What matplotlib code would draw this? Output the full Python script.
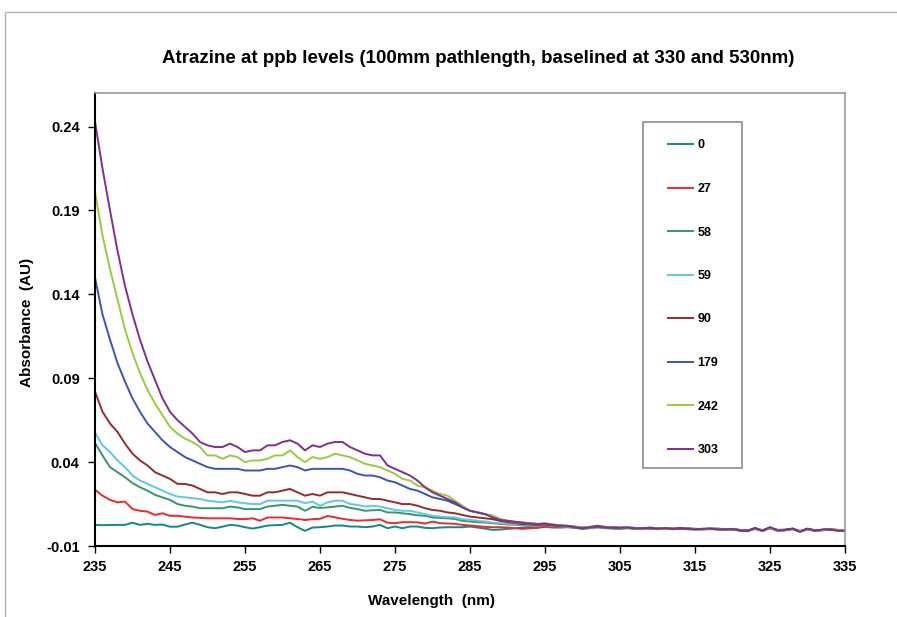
import numpy as np
import matplotlib
matplotlib.use("Agg")
import matplotlib.pyplot as plt
from matplotlib.patches import Rectangle
from matplotlib.ticker import FormatStrFormatter

plt.rcParams['font.family'] = ['Liberation Sans', 'DejaVu Sans']
plt.rcParams['font.weight'] = 'bold'

# wavelength grid, nm
wavelength = np.arange(235, 336)

# absorbance values in milli-AU (235..335 nm, 1 nm step)
a303 = [243, 215, 190, 166, 145, 128, 113, 100, 89, 78,
        70, 65, 61, 57, 52, 50, 49, 49, 51, 49,
        46, 47, 47, 50, 50, 52, 53, 51, 47, 50,
        49, 51, 52, 52, 49, 47, 45, 44, 44, 38,
        36, 34, 32, 29, 25, 22, 20, 18, 16, 13,
        11, 10, 9, 7, 5.5, 5, 4.2, 3.8, 3.3, 3.0,
        3.4, 2.6, 2.2, 2.0, 1.2, 0.6, 1.2, 2.0, 1.2, 0.8,
        0.8, 1.0, 0.6, 0.6, 0.8, 0.4, 0.6, 0.2, 0.8, 0.2,
        0.0, 0.2, 0.4, 0.0, -0.2, 0.2, -0.8, -1.2, 0.8, -1.0,
        1.2, -0.8, -0.4, 0.4, -1.6, 0.4, -0.8, -0.2, 0.0, -0.8,
        -1.0]
a242 = [201, 175, 155, 137, 119, 105, 93, 83, 75, 68,
        61, 57, 54, 52, 49, 44, 44, 42, 44, 43,
        40, 41, 41, 42, 44, 44, 47, 43, 40, 43,
        42, 43, 45, 44, 43, 41, 39, 38, 37, 35,
        33, 30, 29, 26, 25, 23, 21, 20, 17, 14,
        11, 10, 9, 8, 6, 5, 4.0, 3.8, 3.4, 3.2,
        3.6, 2.8, 2.4, 1.8, 1.6, 1.0, 1.4, 2.2, 1.4, 1.0,
        0.6, 1.0, 0.8, 0.4, 0.6, 0.6, 0.4, 0.4, 0.8, 0.4,
        0.2, -0.2, 0.6, 0.2, -0.4, 0.2, -0.6, -1.2, 0.8, -1.0,
        0.8, -0.8, -0.4, 0.0, -1.2, 0.0, -0.8, -0.6, 0.2, -0.4,
        -1.0]
a179 = [150, 128, 113, 99, 88, 78, 70, 63, 58, 53,
        49, 46, 43, 41, 39, 37, 36, 36, 36, 36,
        35, 35, 35, 36, 36, 37, 38, 37, 35, 36,
        36, 36, 36, 36, 35, 33, 32, 32, 31, 29,
        28, 26, 24, 23, 21, 19, 18, 17, 15, 13,
        11, 10, 9, 8, 6, 5, 4.5, 4.0, 3.6, 3.2,
        3.0, 2.8, 2.2, 2.0, 1.6, 1.0, 1.4, 1.6, 1.4, 1.2,
        0.8, 1.2, 0.8, 0.6, 1.0, 0.6, 0.8, 0.4, 0.6, 0.6,
        0.2, 0.2, 0.4, 0.4, 0.0, 0.2, -0.4, -0.8, 0.6, -0.6,
        1.0, -0.4, -0.2, 0.2, -1.2, 0.2, -0.6, -0.4, 0.2, -0.4,
        -0.8]
a90 = [82, 70, 63, 58, 51, 45, 41, 38, 34, 32,
       30, 27, 27, 26, 24, 22, 22, 21, 22, 22,
       21, 20, 20, 22, 22, 23, 24, 22, 20, 21,
       20, 22, 22, 22, 21, 20, 19, 18, 18, 17,
       16, 15, 15, 14, 12.5, 11.5, 11, 10, 9.5, 8.5,
       7.5, 7, 6.5, 6, 5, 4.2, 3.6, 3.0, 2.8, 2.6,
       2.8, 2.2, 2.0, 1.8, 1.4, 0.8, 1.2, 1.6, 1.2, 1.0,
       1.0, 0.8, 0.6, 0.8, 0.6, 0.4, 0.6, 0.2, 0.4, 0.4,
       0.2, 0.0, 0.4, 0.0, -0.2, 0.0, -0.6, -1.0, 0.4, -0.8,
       0.8, -0.6, -0.6, 0.2, -1.2, 0.2, -1.0, -0.4, -0.2, -0.6,
       -1.0]
a59 = [57.5, 50, 46, 41, 37, 32, 29, 27, 25, 23,
       21, 19.5, 19, 18.5, 18, 17, 16.5, 16, 17, 16,
       15.5, 15, 15, 17, 17, 17, 17, 17, 15.5, 16.5,
       14, 16, 17, 17, 15, 14.5, 13.5, 14, 13.5, 12.5,
       11.5, 11, 11, 10, 9, 8, 7.5, 7.2, 7, 6,
       5.6, 5, 4.6, 4, 3.6, 3.2, 2.8, 2.6, 2.4, 2.2,
       2.6, 2.0, 1.8, 1.6, 1.2, 0.8, 1.0, 1.4, 1.0, 0.8,
       0.6, 0.8, 0.4, 0.6, 0.6, 0.2, 0.4, 0.0, 0.4, 0.2,
       0.0, -0.2, 0.2, 0.0, -0.4, -0.2, -0.8, -1.0, 0.4, -1.0,
       0.8, -0.8, -0.6, 0.0, -1.4, 0.0, -1.0, -0.6, -0.2, -0.8,
       -1.2]
a58 = [51.5, 44, 37, 34, 31, 27.5, 25, 23, 20.5, 19,
       17.5, 15, 14, 13.5, 12.5, 12.5, 12.5, 12.5, 13.5, 13,
       12, 12, 12, 13.5, 14, 14.5, 14, 13.5, 11, 13.3,
       12.7, 13, 13.5, 14, 12.7, 12, 11, 11.3, 11.5, 10,
       10, 9.5, 9, 8.3, 8, 7, 6.7, 6.5, 6.1, 5,
       4.6, 4.2, 4, 3.6, 3.2, 2.8, 2.6, 2.4, 2.2, 2.0,
       2.4, 1.8, 1.6, 1.6, 1.2, 0.6, 1.0, 1.4, 1.0, 0.8,
       0.6, 0.8, 0.6, 0.4, 0.6, 0.4, 0.4, 0.2, 0.4, 0.2,
       0.0, 0.0, 0.2, 0.0, -0.2, 0.0, -0.6, -0.8, 0.4, -0.8,
       0.8, -0.6, -0.4, 0.2, -1.2, 0.2, -0.8, -0.4, 0.0, -0.6,
       -1.0]
a27 = [23.5, 20, 17.5, 16, 16.5, 12, 11, 10.5, 8.5, 9.5,
       8, 8, 7.5, 7, 6.8, 6.5, 6.5, 6.5, 6.5, 6.1,
       6, 6.5, 5.1, 7, 7, 7, 6.5, 6.1, 5.5, 6,
       6.2, 7.9, 7.1, 6.2, 5.5, 5.1, 5.3, 5.5, 5.9, 3.9,
       3.6, 4.2, 4.2, 4.1, 3.4, 4.5, 3.6, 3.4, 3.2, 2.6,
       2.2, 1.8, 1.4, 1.2, 1.2, 1.0, 0.6, 0.2, 0.6, 0.8,
       1.6, 1.4, 1.2, 1.4, 1.0, 0.6, 1.0, 1.2, 1.0, 0.6,
       0.6, 0.8, 0.4, 0.6, 0.4, 0.2, 0.8, 0.2, 0.2, 0.4,
       0.0, 0.2, 0.0, 0.2, -0.2, 0.0, -0.4, -0.8, 0.4, -0.6,
       0.6, -0.4, -0.6, 0.4, -1.0, 0.0, -0.6, -0.4, -0.2, -0.6,
       -0.8]
a0 = [2.6, 2.4, 2.5, 2.6, 2.6, 3.9, 2.6, 3.2, 2.6, 2.8,
      1.5, 1.5, 2.8, 3.9, 2.6, 1.2, 0.6, 1.5, 2.6, 2.2,
      1.2, 0.4, 1.2, 2.2, 2.4, 2.6, 3.9, 1.2, -1.0, 1.0,
      1.2, 1.6, 2.2, 2.2, 1.6, 1.6, 1.2, 1.6, 2.6, 0.6,
      1.6, 0.6, 1.6, 1.6, 0.8, 0.6, 1.0, 1.2, 1.2, 1.2,
      1.6, 1.0, 0.4, -0.4, -0.2, 0.2, 0.6, 1.0, 1.2, 1.0,
      1.4, 1.0, 1.0, 1.2, 0.8, 0.2, 0.6, 1.2, 0.6, 0.4,
      0.2, 0.6, 0.2, 0.0, 0.4, 0.0, 0.4, 0.0, 0.2, 0.0,
      -0.2, -0.2, 0.2, -0.2, -0.4, -0.2, -0.8, -1.0, 0.2, -1.0,
      0.6, -0.8, -0.6, 0.0, -1.4, -0.2, -1.0, -0.6, -0.4, -0.8,
      -1.2]

labels = ['0', '27', '58', '59', '90', '179', '242', '303']
series = [a0, a27, a58, a59, a90, a179, a242, a303]
colors = ['#0E8A8A', '#F0282D', '#33996A', '#5CC8E4', '#962A2E',
          '#3A56B4', '#9ACB3A', '#862C8C']

yticks = [-0.01, 0.04, 0.09, 0.14, 0.19, 0.24]
xticks = list(range(235, 336, 10))

fig = plt.figure(figsize=(8.97, 6.17), dpi=100)
ax = fig.add_axes([95 / 897, 1 - 546 / 617, 750 / 897, 453 / 617])

for vals, lab, col in zip(series, labels, colors):
    ax.plot(wavelength, np.array(vals) / 1000.0, color=col, lw=1.4, label=lab)

ax.set_xlim(235, 335)
ax.set_ylim(-0.01, 0.26)
ax.set_xticks(xticks)
ax.set_yticks(yticks)
ax.yaxis.set_major_formatter(FormatStrFormatter('%.2f'))
ax.tick_params(axis='both', direction='out', length=5, width=1, labelsize=10.5, pad=6)
ax.tick_params(axis='x', pad=5)

ax.spines['left'].set_color('black')
ax.spines['bottom'].set_color('black')
ax.spines['left'].set_linewidth(1.5)
ax.spines['bottom'].set_linewidth(1.5)
ax.spines['top'].set_color('#9a9a9a')
ax.spines['right'].set_color('#9a9a9a')
ax.spines['top'].set_linewidth(1.2)
ax.spines['right'].set_linewidth(1.2)

ax.set_title('Atrazine at ppb levels (100mm pathlength, baselined at 330 and 530nm)',
             fontsize=13.5, fontweight='bold', pad=0, y=(546 - 63) / 453, x=(478 - 95) / 750)
ax.set_xlabel('Wavelength  (nm)', fontsize=11, fontweight='bold')
ax.xaxis.set_label_coords((431 - 95) / 750, (546 - 594) / 453)
ax.set_ylabel('Absorbance  (AU)', fontsize=11, fontweight='bold')
ax.yaxis.set_label_coords((34 - 95) / 750, (546 - 322) / 453)

# legend without its own frame; the box is drawn separately to match the original padding
leg = ax.legend(loc='upper left', bbox_to_anchor=((668 - 95) / 750, (546 - 139.5) / 453),
                borderaxespad=0, fontsize=9, frameon=False,
                labelspacing=2.52, borderpad=0, handlelength=2.0, handletextpad=0.35)
for t in leg.get_texts():
    t.set_fontweight('bold')
ax.add_patch(Rectangle(((643 - 95) / 750, (546 - 468) / 453), 99 / 750, 346 / 453,
                       transform=ax.transAxes, fill=False, edgecolor='#8c8c8c',
                       lw=1.2, zorder=5))

# outer chart border (partly cropped in the original)
fig.patches.append(Rectangle((5 / 897, -0.1), 2.0, (617 - 12) / 617 + 0.1,
                             transform=fig.transFigure, fill=False,
                             edgecolor='#b0b0b0', lw=1.0))

fig.savefig('out.png', dpi=100)
